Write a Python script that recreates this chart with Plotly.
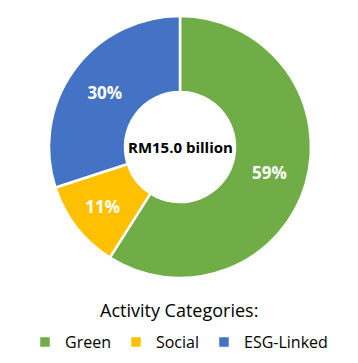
import plotly.graph_objects as go

categories = ["Green", "Social", "ESG-Linked"]
values = [59, 11, 30]
colors = ["#70AD47", "#FFC000", "#4472C4"]
center_text = "RM15.0 billion"
legend_title = "Activity Categories:"

W, H = 358, 363
cx, cy, r = 180, 147, 131
FONT = "Open Sans, Liberation Sans, sans-serif"

fig = go.Figure(go.Pie(
    labels=categories,
    values=values,
    hole=0.42,
    sort=False,
    direction="clockwise",
    rotation=0,
    marker=dict(colors=colors, line=dict(color="white", width=2.5)),
    texttemplate="<b>%{percent:.0%}</b>",
    textposition="inside",
    insidetextorientation="horizontal",
    textfont=dict(family=FONT, size=17, color="white"),
    domain=dict(x=[(cx - r) / W, (cx + r) / W], y=[(H - cy - r) / H, (H - cy + r) / H]),
    hoverinfo="label+percent",
))

fig.add_annotation(
    x=cx / W, y=(H - cy) / H, xref="paper", yref="paper",
    text="<b>" + center_text + "</b>", showarrow=False,
    font=dict(family=FONT, size=15, color="black"),
)

fig.add_annotation(
    x=0.5, y=(H - 310) / H, xref="paper", yref="paper",
    text=legend_title, showarrow=False, xanchor="center", yanchor="middle",
    font=dict(family=FONT, size=18, color="black"),
)

fig.update_layout(
    width=W, height=H,
    margin=dict(l=0, r=0, t=0, b=0),
    paper_bgcolor="white",
    plot_bgcolor="white",
    showlegend=True,
    legend=dict(
        orientation="h",
        x=0.5, xanchor="center",
        y=(H - 342) / H, yanchor="middle",
        font=dict(family=FONT, size=16, color="black"),
        itemwidth=30,
        traceorder="normal",
    ),
)

fig.write_html("out.html")
